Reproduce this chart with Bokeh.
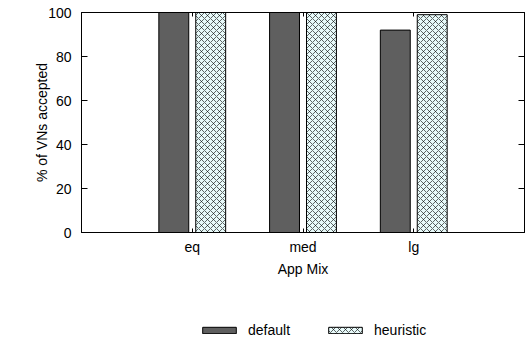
from bokeh.plotting import figure
from bokeh.layouts import column
from bokeh.models import (LinearAxis, FixedTicker, Legend, LegendItem, Range1d,
                          ColumnDataSource)
from bokeh.transform import dodge
from bokeh.embed import file_html
from bokeh.resources import INLINE

# ---- data ----
categories = ["eq", "med", "lg"]
default_vals = [100, 100, 92]
heuristic_vals = [100, 100, 99]
y_ticks = [0, 20, 40, 60, 80, 100]
series_names = ["default", "heuristic"]

x_pos = [i + 1 for i in range(len(categories))]

FONT = "Liberation Sans"
FS = "14px"

DEF_STYLE = dict(fill_color="#5f5f5f", line_color="black", line_width=1)
HEU_STYLE = dict(fill_color="#e8fafa", line_color="black", line_width=1,
                 hatch_pattern="x", hatch_color="black", hatch_scale=6,
                 hatch_weight=0.6)

src = ColumnDataSource(dict(x=x_pos, default=default_vals, heuristic=heuristic_vals))

p = figure(width=531, height=300, x_range=Range1d(0, len(categories) + 1),
           y_range=Range1d(0, 100), output_backend="svg", toolbar_location=None,
           min_border_left=81, min_border_right=7, min_border_top=12,
           min_border_bottom=68)

p.xgrid.visible = False
p.ygrid.visible = False
p.outline_line_color = "black"
p.outline_line_width = 1
p.background_fill_color = "white"
p.border_fill_color = "white"

p.vbar(x=dodge("x", -1/6, range=p.x_range), top="default", width=0.27,
       source=src, **DEF_STYLE)
p.vbar(x=dodge("x", 1/6, range=p.x_range), top="heuristic", width=0.27,
       source=src, **HEU_STYLE)

# bottom axis
xa = p.xaxis[0]
xa.ticker = FixedTicker(ticks=x_pos)
xa.major_label_overrides = {x: c for x, c in zip(x_pos, categories)}
xa.major_tick_in = 4
xa.major_tick_out = 0
xa.minor_tick_line_color = None
xa.axis_label = "App Mix"
xa.axis_label_text_font = FONT
xa.axis_label_text_font_size = FS
xa.axis_label_text_font_style = "normal"
xa.axis_label_text_color = "black"
xa.axis_label_standoff = 3
xa.major_label_text_font = FONT
xa.major_label_text_font_size = FS
xa.major_label_text_color = "black"
xa.major_label_standoff = 6
xa.axis_line_color = "black"
xa.major_tick_line_color = "black"

# left axis
ya = p.yaxis[0]
ya.ticker = FixedTicker(ticks=y_ticks)
ya.major_tick_in = 6
ya.major_tick_out = 0
ya.minor_tick_line_color = None
ya.axis_label = "% of VNs accepted"
ya.axis_label_text_font = FONT
ya.axis_label_text_font_size = FS
ya.axis_label_text_font_style = "normal"
ya.axis_label_text_color = "black"
ya.axis_label_standoff = -5
ya.major_label_text_font = FONT
ya.major_label_text_font_size = FS
ya.major_label_text_color = "black"
ya.major_label_standoff = 10
ya.axis_line_color = "black"
ya.major_tick_line_color = "black"

# mirrored ticks
ra = LinearAxis(ticker=FixedTicker(ticks=y_ticks), major_tick_in=6, major_tick_out=0,
                minor_tick_line_color=None,
                major_label_overrides={t: "" for t in y_ticks},
                major_label_standoff=0, axis_line_color="black")
p.add_layout(ra, "right")
ta = LinearAxis(ticker=FixedTicker(ticks=x_pos), major_tick_in=4, major_tick_out=0,
                minor_tick_line_color=None,
                major_label_overrides={t: "" for t in x_pos},
                major_label_standoff=0, axis_line_color="black")
p.add_layout(ta, "above")

# ---- legend strip (its frame is aligned with the main frame) ----
# the view ranges lie away from the data, so only the legend shows
p2 = figure(width=531, height=41, x_range=Range1d(10, 11), y_range=Range1d(200, 201),
            output_backend="svg", toolbar_location=None,
            x_axis_location=None, y_axis_location=None,
            min_border_left=0, min_border_right=0, min_border_top=0,
            min_border_bottom=0)
p2.xgrid.visible = False
p2.ygrid.visible = False
p2.outline_line_color = None
p2.background_fill_color = "white"
p2.border_fill_color = "white"

l_def = p2.vbar(x="x", top="default", width=0.27, source=src, **DEF_STYLE)
l_heu = p2.vbar(x="x", top="heuristic", width=0.27, source=src, **HEU_STYLE)

legend = Legend(items=[LegendItem(label=series_names[0], renderers=[l_def]),
                       LegendItem(label=series_names[1], renderers=[l_heu])],
                orientation="horizontal", location=(117, 3),
                glyph_width=42, glyph_height=8, label_standoff=8, spacing=34,
                padding=0, margin=0, border_line_alpha=0,
                background_fill_alpha=0, label_text_font=FONT,
                label_text_font_size=FS, label_text_color="black")
p2.add_layout(legend, "center")

layout = column(p, p2, spacing=0)
open("out.html", "w").write(file_html(layout, INLINE))
